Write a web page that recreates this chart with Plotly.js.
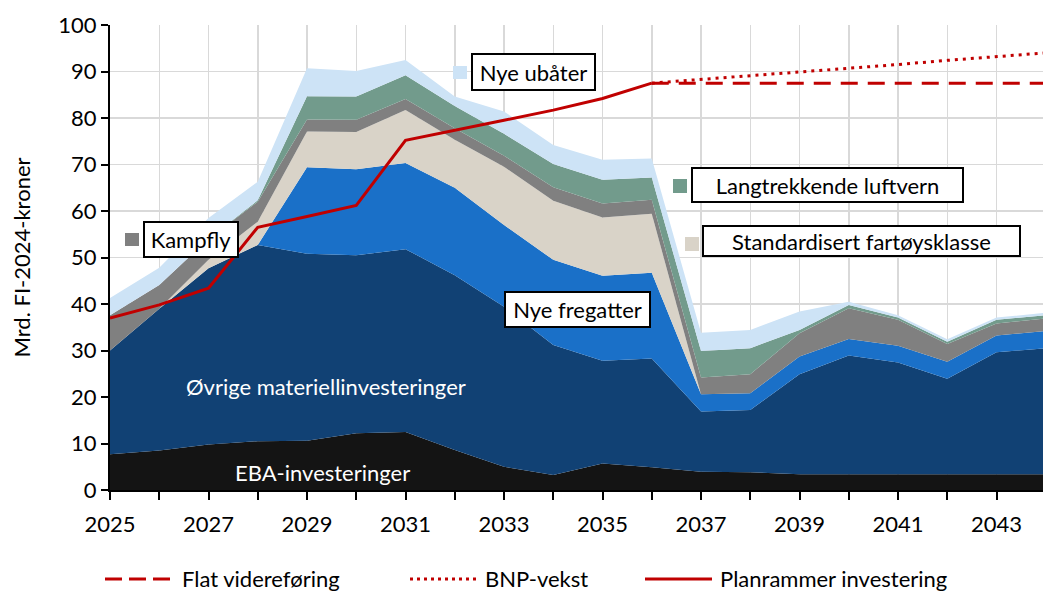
<!DOCTYPE html>
<html>
<head>
<meta charset="utf-8">
<script src="https://cdn.plot.ly/plotly-3.0.1.min.js"></script>
<style>
html,body{margin:0;padding:0;background:#fff;}
#chart{width:1043px;height:592px;}
</style>
</head>
<body>
<div id="chart"></div>
<script>
// ---- Data (Mrd. FI-2024-kroner) ----
const years = [2025,2026,2027,2028,2029,2030,2031,2032,2033,2034,2035,2036,2037,2038,2039,2040,2041,2042,2043,2044];
const eba        = [7.7,8.5,9.8,10.5,10.6,12.2,12.5,8.6,5.0,3.2,5.7,4.9,3.9,3.8,3.4,3.4,3.4,3.4,3.4,3.4];
const ovrige     = [22.3,30.5,37.9,42.2,40.2,38.3,39.3,37.6,34.4,28.0,22.1,23.4,13.0,13.4,21.5,25.5,24.0,20.5,26.2,27.1];
const fregatter  = [0,0,0,0,18.6,18.5,18.5,18.8,17.6,18.3,18.3,18.4,3.7,3.6,3.8,3.6,3.6,3.7,3.6,3.7];
const fartoy     = [0,0,1.8,5.0,7.7,8.0,11.4,10.3,12.5,12.7,12.5,12.7,0,0,0,0,0,0,0,0];
const kampfly    = [7.6,5.1,4.5,4.3,2.6,2.6,2.4,2.5,2.4,2.9,3.0,3.0,3.6,4.1,5.0,6.6,5.6,3.8,2.6,2.7];
const luftvern   = [0,0,0,0.3,5.0,5.0,5.1,4.8,4.7,5.0,5.1,4.8,5.7,5.6,0.7,0.7,0.5,0.5,0.8,0.7];
const ubater     = [3.7,3.7,4.5,4.0,6.0,5.5,3.3,2.0,4.8,4.1,4.3,4.1,3.9,3.9,4.0,0.7,0.5,0.5,0.5,0.5];

const planYears  = [2025,2026,2027,2028,2029,2030,2031,2032,2033,2034,2035,2036];
const planValues = [37.0,39.8,43.4,56.5,58.8,61.2,75.2,77.3,79.5,81.7,84.2,87.5];
const trendYears = [2036,2037,2038,2039,2040,2041,2042,2043,2044];
const flatValues = [87.5,87.5,87.5,87.5,87.5,87.5,87.5,87.5,87.5];
const bnpValues  = [87.5,88.3,89.0,89.8,90.7,91.5,92.4,93.2,94.0];

const xTickVals = [2025,2027,2029,2031,2033,2035,2037,2039,2041,2043];
const yTickVals = [0,10,20,30,40,50,60,70,80,90,100];

const layerNames = ['EBA-investeringer','Øvrige materiellinvesteringer','Nye fregatter','Standardisert fartøysklasse','Kampfly','Langtrekkende luftvern','Nye ubåter'];
const layerData = [eba, ovrige, fregatter, fartoy, kampfly, luftvern, ubater];
const layerColors = ['#141414','#114174','#1A70C8','#D9D3C8','#808080','#729B8C','#CDE3F6'];
const RED = '#C00000';
const FONT = 'Lato, "Noto Sans", sans-serif';
const FS = 22;

// ---- Traces ----
const traces = layerData.map((vals, i) => ({
  x: years, y: vals, type: 'scatter', mode: 'lines', stackgroup: 'one',
  name: layerNames[i], fillcolor: layerColors[i], line: {width: 0, color: layerColors[i]},
  showlegend: false, hoverinfo: 'x+y+name'
}));
traces.push({x: trendYears, y: flatValues, type:'scatter', mode:'lines', name:'Flat videreføring',
  line:{color:RED, width:3, dash:'17px,10px'}, showlegend:false});
traces.push({x: trendYears, y: bnpValues, type:'scatter', mode:'lines', name:'BNP-vekst',
  line:{color:RED, width:3, dash:'3px,5px'}, showlegend:false});
traces.push({x: planYears, y: planValues, type:'scatter', mode:'lines', name:'Planrammer investering',
  line:{color:RED, width:3}, showlegend:false});

// ---- Layout helpers (pixel -> paper) ----
const L = 110, R = 1043, T = 25, B = 490;
const PX = px => (px - L) / (R - L);
const PY = py => (B - py) / (B - T);

const shapes = [];
const annotations = [];

function boxLabel(text, x0, y0, x1, y1, sq, sqColor) {
  annotations.push({
    xref:'paper', yref:'paper', x: PX((x0+x1)/2), y: PY((y0+y1)/2),
    xanchor:'center', yanchor:'middle', text: text, showarrow:false,
    font:{family:FONT, size:FS, color:'#000'},
    bgcolor:'#fff', bordercolor:'#000', borderwidth:2, borderpad:1,
    width: (x1-x0) - 6, height: (y1-y0) - 6, align:'center', valign:'middle'
  });
  if (sq) {
    shapes.push({type:'rect', xref:'paper', yref:'paper',
      x0: PX(sq[0]), x1: PX(sq[2]), y0: PY(sq[3]), y1: PY(sq[1]),
      fillcolor: sqColor, line:{width:0}});
  }
}
boxLabel('Kampfly', 143, 221, 239, 258, [125,233,139,246], '#808080');
boxLabel('Nye ubåter', 471, 53, 596, 91, [453,66,467,79], '#CDE3F6');
boxLabel('Langtrekkende luftvern', 691, 167, 964, 203, [673,179,687,193], '#729B8C');
boxLabel('Standardisert fartøysklasse', 702, 225, 1021, 257, [685,237,699,251], '#D9D3C8');
boxLabel('Nye fregatter', 504, 291, 651, 328, null, null);

annotations.push({xref:'paper', yref:'paper', x:PX(326), y:PY(386), xanchor:'center', yanchor:'middle',
  text:'Øvrige materiellinvesteringer', showarrow:false, font:{family:FONT, size:FS, color:'#fff'}});
annotations.push({xref:'paper', yref:'paper', x:PX(322), y:PY(472), xanchor:'center', yanchor:'middle',
  text:'EBA-investeringer', showarrow:false, font:{family:FONT, size:FS, color:'#fff'}});

// manual legend for the lines
const legY = 578;
const legendItems = [
  {x0:105, x1:170, tx:180, text:'Flat videreføring', dash:'17px,7px'},
  {x0:410, x1:477, tx:483, text:'BNP-vekst', dash:'3px,4px'},
  {x0:645, x1:712, tx:718, text:'Planrammer investering', dash:'solid'}
];
legendItems.forEach(it => {
  shapes.push({type:'line', xref:'paper', yref:'paper', x0:PX(it.x0), x1:PX(it.x1), y0:PY(legY+1), y1:PY(legY+1),
    line:{color:RED, width:3, dash:it.dash}});
  annotations.push({xref:'paper', yref:'paper', x:PX(it.tx), y:PY(legY), xanchor:'left', yanchor:'middle',
    text:it.text, showarrow:false, font:{family:FONT, size:22, color:'#000'}});
});

const layout = {
  width: 1043, height: 592,
  margin: {l: L, r: 1043 - R, t: T, b: 592 - B, pad: 0},
  paper_bgcolor:'#fff', plot_bgcolor:'#fff',
  font:{family:FONT, size:FS, color:'#000'},
  showlegend:false,
  xaxis: {
    range:[2025, 2025 + (R-L)/49.25], tickvals:xTickVals, ticktext:xTickVals.map(String),
    ticks:'outside', ticklen:8, tickwidth:2, tickcolor:'#000',
    showline:true, linecolor:'#000', linewidth:2,
    showgrid:true, gridcolor:'#D9D9D9', gridwidth:1.5,
    minor:{dtick:1, tick0:2025, ticks:'outside', ticklen:8, tickwidth:2, tickcolor:'#000', showgrid:true, gridcolor:'#D9D9D9', gridwidth:1.5},
    ticklabelstandoff: 6,
    tickfont:{family:FONT, size:FS, color:'#000'}, zeroline:false, fixedrange:true
  },
  yaxis: {
    range:[0,100], tickvals:yTickVals,
    ticks:'outside', ticklen:7, tickwidth:2, tickcolor:'#000',
    showline:true, linecolor:'#000', linewidth:2,
    showgrid:true, gridcolor:'#D9D9D9', gridwidth:1.5,
    tickfont:{family:FONT, size:FS, color:'#000'}, zeroline:false,
    title:{text:'Mrd. FI-2024-kroner', font:{family:FONT, size:FS, color:'#000'}, standoff: 22}
  },
  shapes: shapes,
  annotations: annotations
};

Plotly.newPlot('chart', traces, layout, {displayModeBar:false, staticPlot:true});
</script>
</body>
</html>
